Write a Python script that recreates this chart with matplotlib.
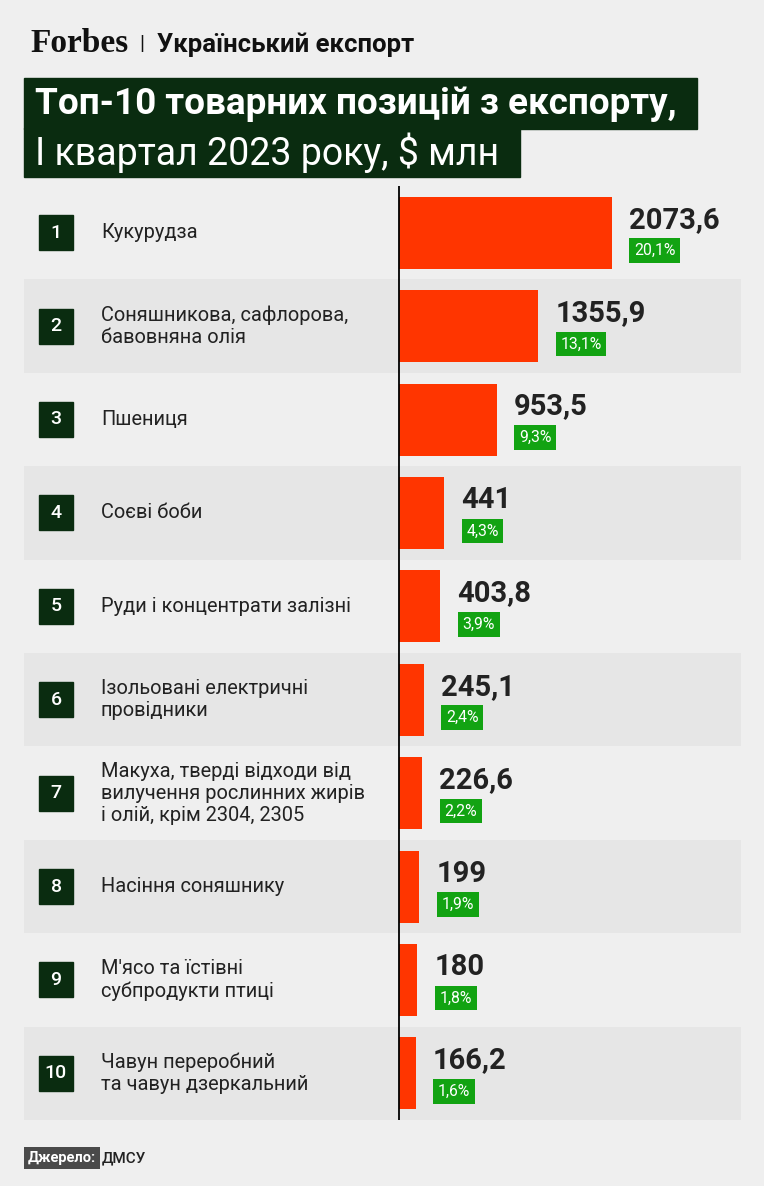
import matplotlib
matplotlib.use("Agg")
import matplotlib.pyplot as plt
from matplotlib.patches import Rectangle

# data
categories = [
    "Кукурудза",
    "Соняшникова, сафлорова,\nбавовняна олія",
    "Пшениця",
    "Соєві боби",
    "Руди і концентрати залізні",
    "Ізольовані електричні\nпровідники",
    "Макуха, тверді відходи від\nвилучення рослинних жирів\nі олій, крім 2304, 2305",
    "Насіння соняшнику",
    "М'ясо та їстівні\nсубпродукти птиці",
    "Чавун переробний\nта чавун дзеркальний",
]
values = [2073.6, 1355.9, 953.5, 441, 403.8, 245.1, 226.6, 199, 180, 166.2]
value_labels = ["2073,6", "1355,9", "953,5", "441", "403,8",
                "245,1", "226,6", "199", "180", "166,2"]
shares = ["20,1%", "13,1%", "9,3%", "4,3%", "3,9%",
          "2,4%", "2,2%", "1,9%", "1,8%", "1,6%"]

W, H = 764, 1186
BG = "#efefef"
BAND = "#e6e6e6"
DARK = "#0a2c10"
RED = "#ff3500"
GREEN = "#12a312"
TXT = "#222222"

plt.rcParams["font.family"] = ["Roboto", "DejaVu Sans"]

fig = plt.figure(figsize=(W / 100, H / 100), dpi=100, facecolor=BG)


def fx(x):
    return x / W


def fy(y):
    return 1 - y / H


# header
fig.text(fx(30), fy(43), "Forbes", family="Liberation Serif", weight="bold",
         fontsize=24, color="#111111", va="center", ha="left")
fig.text(fx(139), fy(44), "|", fontsize=15, color="#111111", va="center")
fig.text(fx(157), fy(45), "Український експорт", weight="bold", fontsize=18.5,
         color="#111111", va="center", ha="left")

# title boxes
fig.patches.append(Rectangle((fx(24), fy(129)), fx(697 - 24), (129 - 78) / H,
                             transform=fig.transFigure, color=DARK))
fig.patches.append(Rectangle((fx(24), fy(177)), fx(520 - 24), (177 - 128) / H,
                             transform=fig.transFigure, color=DARK))
fig.text(fx(35), fy(104), "Топ-10 товарних позицій з експорту,", weight="bold",
         fontsize=26.6, color="white", va="center", ha="left")
fig.text(fx(35), fy(153), "І квартал 2023 року, $ млн", fontsize=27,
         color="white", va="center", ha="left")

# main chart area: x from 24 to 741 px, zero line at 399 px
left_px, right_px, zero_px = 24, 741, 399
top_px, bot_px = 186, 1120
px_per_unit = 213 / 2073.6
ax = fig.add_axes([fx(left_px), fy(bot_px), fx(right_px - left_px),
                   (bot_px - top_px) / H])
ax.set_xlim(-(zero_px - left_px) / px_per_unit, (right_px - zero_px) / px_per_unit)
n = len(values)
ax.set_ylim(n - 0.5, -0.5)
ax.axis("off")

row_px = (bot_px - top_px) / n
for i in range(n):
    if i % 2 == 1:
        ax.axhspan(i - 0.5, i + 0.5, color=BAND, lw=0, zorder=0)

ys = list(range(n))
ax.barh(ys, values, height=72 / row_px, color=RED, zorder=2)
ax.axvline(0, color="black", lw=1.3, zorder=3)


def dx(px):
    return px / px_per_unit


for i in ys:
    # number badge
    bx = -dx(zero_px - 39)
    ax.add_patch(Rectangle((bx, i - 17.5 / row_px), dx(34), 35 / row_px,
                           color=DARK, zorder=2))
    ax.text(bx + dx(17), i, str(i + 1), color="white", fontsize=14,
            weight="medium", ha="center", va="center", zorder=3)
    # category label
    ax.text(-dx(zero_px - 101), i, categories[i], color=TXT, fontsize=14.4,
            ha="left", va="center", linespacing=1.2, zorder=3)
    # value and share
    vx = values[i] + dx(18)
    ax.text(vx - dx(1), i - 13 / row_px, value_labels[i], color=TXT,
            fontsize=21, weight="bold", ha="left", va="center", zorder=3)
    ax.text(vx + dx(4), i + 18 / row_px, shares[i], color="white",
            fontsize=11.3, ha="left", va="center", zorder=3,
            bbox=dict(boxstyle="square,pad=0.3", fc=GREEN, ec="none"))

# footer
fig.text(fx(28), fy(1158), "Джерело:", color="white", fontsize=10.5,
         weight="bold", va="center", ha="left",
         bbox=dict(boxstyle="square,pad=0.28", fc="#4a4a4a", ec="none"))
fig.text(fx(102), fy(1158), "ДМСУ", color=TXT, fontsize=11, weight="medium",
         va="center", ha="left")

fig.savefig("out.png", dpi=100, facecolor=BG)
